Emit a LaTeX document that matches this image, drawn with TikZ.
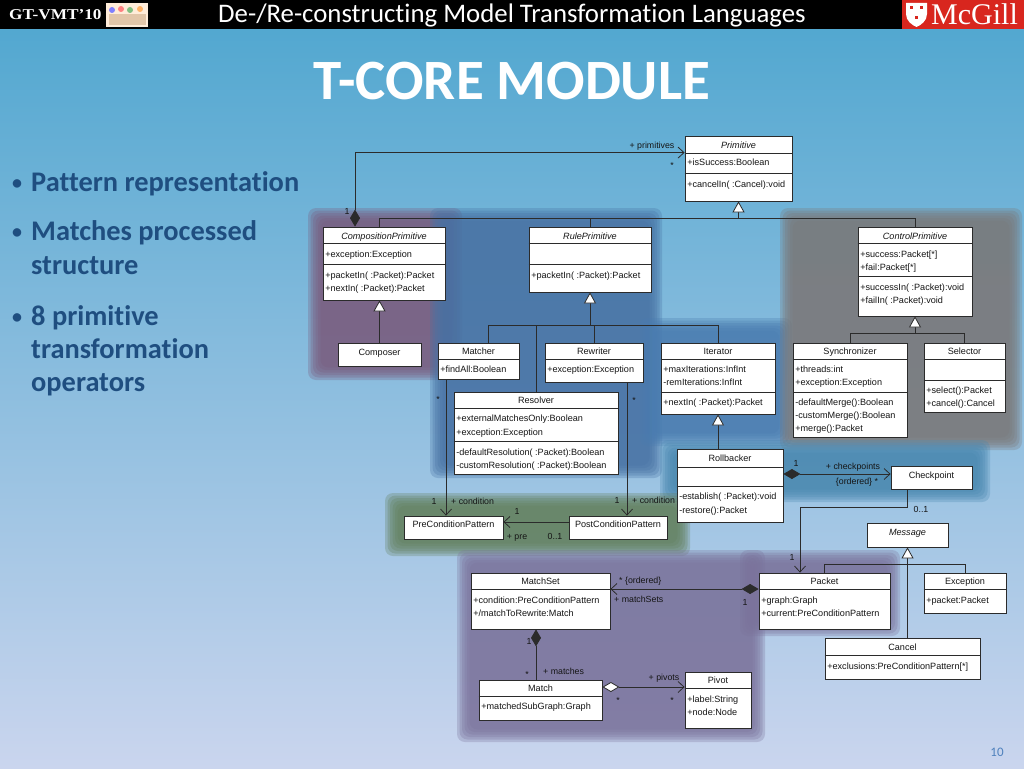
\documentclass[tikz,border=0pt]{standalone}
\usepackage{fontspec}
\setmainfont{Liberation Sans}
\newfontfamily\calfont[Ligatures={NoCommon}]{Carlito}
\newfontfamily\serfont{Liberation Serif}
\newfontfamily\gtfont[FakeStretch=1.15]{Liberation Serif}
\usetikzlibrary{arrows.meta,fit,calc}
\definecolor{bgtop}{HTML}{4EA6CF}
\definecolor{bgmid}{HTML}{8DB3DE}
\definecolor{bgbot}{HTML}{CAD5EE}
\definecolor{cpurple}{HTML}{7A5C7E}
\definecolor{cblue}{HTML}{4872A4}
\definecolor{cblueb}{HTML}{4A7CB0}
\definecolor{cgray}{HTML}{7B7878}
\definecolor{cteal}{HTML}{4A88B0}
\definecolor{cgreen}{HTML}{63805E}
\definecolor{cpurpb}{HTML}{7B739C}
\definecolor{txtc}{HTML}{151515}
\definecolor{linec}{HTML}{2B2B2B}
\definecolor{bulc}{HTML}{1F4E80}
\definecolor{pgc}{HTML}{4F81BD}
\definecolor{mcred}{HTML}{D8261E}
\tikzset{
 clsbox/.style={draw=linec, line width=0.8pt, fill=white, inner sep=0pt},
 ut/.style={font=\fontsize{9.1}{10}\selectfont, text=txtc, inner sep=0pt, text height=6.6pt, text depth=0pt, anchor=west, xshift=2.5pt},
 utc/.style={font=\fontsize{9.1}{10}\selectfont, text=txtc, inner sep=0pt, text height=6.6pt, text depth=0pt},
 uti/.style={font=\fontsize{9.1}{10}\selectfont\itshape, text=txtc, inner sep=0pt, text height=6.6pt, text depth=0pt},
 lbl/.style={font=\fontsize{8.8}{10}\selectfont, text=txtc, inner sep=0pt, text height=6.4pt, text depth=0pt},
 conn/.style={draw=linec, line width=0.8pt},
 gen/.style={conn, -{Triangle[length=11pt,width=12pt,fill=white]}},
 assoc/.style={conn, -{Straight Barb[length=6pt,width=11pt]}},
 comp/.style={conn, {Diamond[length=17pt,width=10pt]}-{Straight Barb[length=6pt,width=11pt]}},
 compl/.style={conn, {Diamond[length=17pt,width=10pt]}-},
 aggr/.style={conn, {Diamond[length=17pt,width=10pt,fill=white]}-{Straight Barb[length=6pt,width=11pt]}},
 bul/.style={font=\calfont\bfseries\fontsize{28.4}{30}\selectfont, text=bulc, inner sep=0pt, anchor=base west},
 buld/.style={font=\calfont\bfseries\fontsize{20}{20}\selectfont, text=bulc, inner sep=0pt, anchor=base west},
}
\newcommand\uml[5]{\node[clsbox, fit={(#2,#3) (#4,#5)}] (#1) {};}
\newcommand\hsep[2]{\draw[conn] (#1.west |- 0,#2) -- (#1.east |- 0,#2);}
\newcommand\ttl[3]{\node[utc] (#1-t) at (#1.north |- 0,#2) {#3};}
\newcommand\ittl[3]{\node[uti] (#1-t) at (#1.north |- 0,#2) {#3};}
\newcommand\atr[4]{\node[ut] (#1-#2) at (#1.west |- 0,#3) {#4};}
\newcommand\blob[5]{\foreach \i in {0,2.5,...,12.5}{\fill[#5, fill opacity=0.3, rounded corners=8pt] (#1+\i,#2+\i) rectangle (#3-\i,#4-\i);}}
\begin{document}
\begin{tikzpicture}[x=1pt,y=-1pt]
\useasboundingbox (0,0) rectangle (1024,768);
\shade[top color=bgtop, middle color=bgmid, bottom color=bgbot] (0,0) rectangle (1024,768);
% header
\fill[black] (0,0) rectangle (1024,29);
\node[font=\gtfont\bfseries\fontsize{15}{15}\selectfont, text=white, anchor=west, inner sep=0pt] (gt) at (9,15) {GT-VMT’10};
\fill[white!85!orange] (106,3) rectangle (148,27);
\fill[blue!50] (112,10) circle (3); \fill[red!50] (121,9) circle (3); \fill[green!50!black!50] (130,10) circle (3); \fill[orange!60] (140,9) circle (3);
\fill[brown!45] (109,14) rectangle (146,25);
\node[font=\calfont\fontsize{26.8}{27}\selectfont, text=white, inner sep=0pt] (hdr) at (512,15) {De-/Re-constructing Model Transformation Languages};
\fill[mcred] (902,0) rectangle (1024,29);
\fill[white] (906,3) -- (927,3) -- (927,14) .. controls (927,21) and (921,25) .. (916.5,27) .. controls (912,25) and (906,21) .. (906,14) -- cycle;
\fill[mcred] (910,6) rectangle (913,9); \fill[mcred] (920,6) rectangle (923,9); \fill[mcred] (915,16) rectangle (918,19);
\node[font=\serfont\fontsize{30}{30}\selectfont, text=white, anchor=base west, inner sep=0pt] (mcg) at (931,25) {McGill};
% title
\node[font=\calfont\bfseries\fontsize{57}{57}\selectfont, text=white, anchor=base, inner sep=0pt] (title) at (512,99) {T-CORE MODULE};
% bullets
\node[buld] (b1d) at (12,189) {•};
\node[bul] (b1) at (31,191) {Pattern representation};
\node[buld] (b2d) at (12,238) {•};
\node[bul] (b2) at (31,240) {Matches processed};
\node[bul] (b2b) at (31,274) {structure};
\node[buld] (b3d) at (12,323) {•};
\node[bul] (b3) at (31,325) {8 primitive};
\node[bul] (b3b) at (31,358) {transformation};
\node[bul] (b3c) at (31,391) {operators};
\node[font=\calfont\fontsize{13}{13}\selectfont, text=pgc, inner sep=0pt] (pg) at (997,752) {10};
% shadow regions
\blob{308}{208}{462}{380}{cpurple}
\blob{430}{208}{662}{478}{cblue}
\blob{640}{318}{792}{446}{cblueb}
\blob{780}{208}{1022}{450}{cgray}
\blob{660}{440}{990}{502}{cteal}
\blob{385}{493}{690}{556}{cgreen}
\blob{457}{550}{765}{742}{cpurpb}
\blob{740}{550}{900}{636}{cpurpb}
% classes
\uml{prim}{685}{136}{792}{201}
\ittl{prim}{145}{Primitive}
\hsep{prim}{153}
\atr{prim}{a}{162}{+isSuccess:Boolean}
\hsep{prim}{173}
\atr{prim}{b}{184}{+cancelIn( :Cancel):void}
\uml{compo}{323}{227}{445}{300}
\ittl{compo}{236}{CompositionPrimitive}
\hsep{compo}{243}
\atr{compo}{a}{254}{+exception:Exception}
\hsep{compo}{264}
\atr{compo}{b}{275}{+packetIn( :Packet):Packet}
\atr{compo}{c}{288}{+nextIn( :Packet):Packet}
\uml{rule}{529}{227}{651}{292}
\ittl{rule}{236}{RulePrimitive}
\hsep{rule}{243}
\hsep{rule}{264}
\atr{rule}{a}{275}{+packetIn( :Packet):Packet}
\uml{ctrl}{858}{227}{972}{316}
\ittl{ctrl}{236}{ControlPrimitive}
\hsep{ctrl}{243}
\atr{ctrl}{a}{254}{+success:Packet[*]}
\atr{ctrl}{b}{267}{+fail:Packet[*]}
\hsep{ctrl}{276}
\atr{ctrl}{c}{287}{+successIn( :Packet):void}
\atr{ctrl}{d}{300}{+failIn( :Packet):void}
\uml{composer}{338}{343}{421}{366}
\ttl{composer}{352}{Composer}
\uml{matcher}{438}{343}{519}{379}
\ttl{matcher}{351}{Matcher}
\hsep{matcher}{359}
\atr{matcher}{a}{369}{+findAll:Boolean}
\uml{rewriter}{545}{343}{643}{382}
\ttl{rewriter}{351}{Rewriter}
\hsep{rewriter}{359}
\atr{rewriter}{a}{369}{+exception:Exception}
\uml{resolver}{454}{392}{618}{474}
\ttl{resolver}{400.5}{Resolver}
\hsep{resolver}{408}
\atr{resolver}{a}{418.5}{+externalMatchesOnly:Boolean}
\atr{resolver}{b}{432}{+exception:Exception}
\hsep{resolver}{441}
\atr{resolver}{c}{452}{-defaultResolution( :Packet):Boolean}
\atr{resolver}{d}{465}{-customResolution( :Packet):Boolean}
\uml{iter}{661}{343}{775}{414}
\ttl{iter}{351}{Iterator}
\hsep{iter}{359}
\atr{iter}{a}{369}{+maxIterations:InfInt}
\atr{iter}{b}{382}{-remIterations:InfInt}
\hsep{iter}{392}
\atr{iter}{c}{402}{+nextIn( :Packet):Packet}
\uml{sync}{793}{343}{907}{437}
\ttl{sync}{351}{Synchronizer}
\hsep{sync}{359}
\atr{sync}{a}{369}{+threads:int}
\atr{sync}{b}{382}{+exception:Exception}
\hsep{sync}{392}
\atr{sync}{c}{402}{-defaultMerge():Boolean}
\atr{sync}{d}{415}{-customMerge():Boolean}
\atr{sync}{e}{428}{+merge():Packet}
\uml{sel}{924}{343}{1005}{412}
\ttl{sel}{351}{Selector}
\hsep{sel}{359}
\hsep{sel}{380}
\atr{sel}{a}{390}{+select():Packet}
\atr{sel}{b}{403}{+cancel():Cancel}
\uml{roll}{677}{449}{783}{522}
\ttl{roll}{458}{Rollbacker}
\hsep{roll}{467}
\hsep{roll}{486}
\atr{roll}{a}{496}{-establish( :Packet):void}
\atr{roll}{b}{510}{-restore():Packet}
\uml{chk}{891}{466}{972}{489}
\ttl{chk}{475}{Checkpoint}
\uml{pre}{404}{516}{503}{539}
\ttl{pre}{524}{PreConditionPattern}
\uml{post}{569}{516}{667}{539}
\ttl{post}{524}{PostConditionPattern}
\uml{msg}{867}{523}{948}{547}
\ittl{msg}{532}{Message}
\uml{packet}{759}{573}{890}{629}
\ttl{packet}{581.5}{Packet}
\hsep{packet}{589}
\atr{packet}{a}{600}{+graph:Graph}
\atr{packet}{b}{613}{+current:PreConditionPattern}
\uml{exc}{924}{573}{1006}{613}
\ttl{exc}{581.5}{Exception}
\hsep{exc}{589}
\atr{exc}{a}{600}{+packet:Packet}
\uml{cancel}{825}{638}{980}{679}
\ttl{cancel}{647}{Cancel}
\hsep{cancel}{655}
\atr{cancel}{a}{666}{+exclusions:PreConditionPattern[*]}
\uml{mset}{471}{573}{610}{629}
\ttl{mset}{581.5}{MatchSet}
\hsep{mset}{589}
\atr{mset}{a}{600}{+condition:PreConditionPattern}
\atr{mset}{b}{613}{+/matchToRewrite:Match}
\uml{match}{479}{680}{602}{720}
\ttl{match}{688}{Match}
\hsep{match}{696}
\atr{match}{a}{706}{+matchedSubGraph:Graph}
\uml{pivot}{685}{672}{751}{728}
\ttl{pivot}{680.5}{Pivot}
\hsep{pivot}{688}
\atr{pivot}{a}{699}{+label:String}
\atr{pivot}{b}{712}{+node:Node}
% connectors
\draw[comp] ([xshift=-29pt]compo.north) |- ([yshift=-17pt]prim.north west);
\coordinate (g1) at ([yshift=-17pt]prim.south);
\draw[conn] ([xshift=-5pt]compo.north) |- (g1) -| (ctrl.north);
\draw[conn] (g1 -| rule.north) -- (rule.north);
\draw[gen] (g1) -- (prim.south);
\draw[gen] (composer.north) -- (composer.north |- compo.south);
\coordinate (g2) at ([yshift=-33pt]rule.south);
\draw[conn] ([xshift=9.5pt]matcher.north) |- (g2) -| (iter.north);
\draw[conn] (resolver.north) -- (resolver.north |- g2);
\draw[conn] (g2 -| rewriter.north) -- (rewriter.north);
\draw[gen] (g2) -- (rule.south);
\coordinate (g3) at ([yshift=-17pt]ctrl.south);
\draw[conn] (sync.north) |- (g3) -| (sel.north);
\draw[gen] (g3) -- (ctrl.south);
\draw[gen] (iter.south |- roll.north) -- (iter.south);
\coordinate (ck) at ([yshift=3.5pt]chk.west);
\draw[comp] (roll.east |- ck) -- (ck);
\draw[assoc] ([xshift=-24.5pt]chk.south) -- ++(0,18) -| ([xshift=-24.5pt]packet.north);
\draw[assoc] ([yshift=5.5pt]post.west) -- ([yshift=5.5pt]pre.east);
\coordinate (m1) at ([xshift=-32.5pt]matcher.south);
\draw[assoc] (m1) -- (m1 |- pre.north);
\coordinate (r1) at ([xshift=33pt]rewriter.south);
\draw[assoc] (r1) -- (r1 |- post.north);
\draw[comp] ([yshift=12pt]packet.west) -- ([yshift=12pt]mset.east);
\draw[compl] ([xshift=-4.5pt]mset.south) -- ([xshift=-4.5pt]match.north);
\draw[aggr] ([yshift=13pt]match.east) -- ([yshift=13pt]pivot.west);
\coordinate (g4) at ([yshift=-17pt]msg.south);
\draw[conn] (packet.north) |- (g4) -| (exc.north);
\draw[conn] (cancel.north -| g4) -- (g4);
\draw[gen] (g4) -- (msg.south);
% labels
\node[lbl] (lp1) at (652,145) {+ primitives};
\node[lbl] (lp2) at (672,165) {*};
\node[lbl] (lp3) at (347,211) {1};
\node[lbl] (lc1) at (434,501) {1};
\node[lbl, anchor=west] (lc2) at (451,501) {+ condition};
\node[lbl] (lc3) at (438,399) {*};
\node[lbl] (lc4) at (617,500) {1};
\node[lbl, anchor=west] (lc5) at (632,500) {+ condition};
\node[lbl] (lc6) at (634,400) {*};
\node[lbl] (lq1) at (517,511) {1};
\node[lbl] (lq2) at (517,536) {+ pre};
\node[lbl] (lq3) at (555,536) {0..1};
\node[lbl] (lk1) at (796,463) {1};
\node[lbl] (lk2) at (853,466) {+ checkpoints};
\node[lbl] (lk3) at (857,481) {\{ordered\} *};
\node[lbl] (lk4) at (921,509) {0..1};
\node[lbl] (lk5) at (792,557) {1};
\node[lbl, anchor=west] (lm1) at (619,580) {* \{ordered\}};
\node[lbl, anchor=west] (lm2) at (614,599) {+ matchSets};
\node[lbl] (lm3) at (745,602) {1};
\node[lbl] (lm4) at (529,641) {1};
\node[lbl] (lm5) at (527,674) {*};
\node[lbl, anchor=west] (lm6) at (543,671) {+ matches};
\node[lbl] (lv1) at (664,677) {+ pivots};
\node[lbl] (lv2) at (618,700) {*};
\node[lbl] (lv3) at (672,700) {*};
\end{tikzpicture}
\end{document}
